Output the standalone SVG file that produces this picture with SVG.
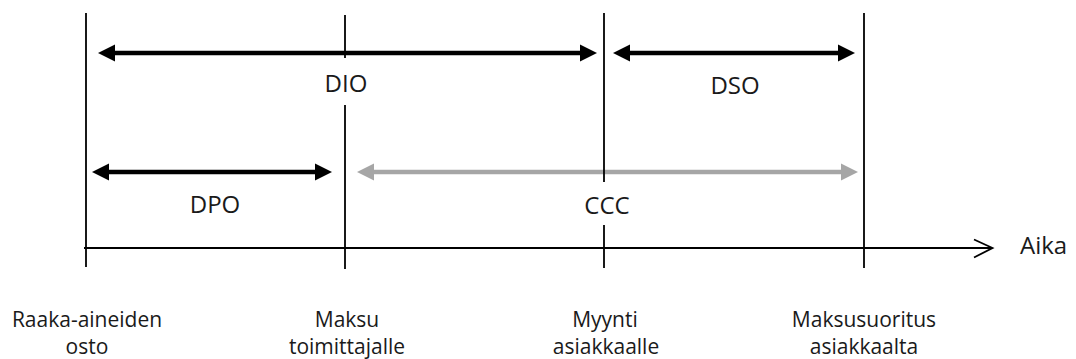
<svg xmlns="http://www.w3.org/2000/svg" width="1076" height="359" viewBox="0 0 1076 359">
<defs>
<style>
.t{font-family:"Open Sans","Liberation Sans",sans-serif;fill:#1a1a1a;text-anchor:middle}
.big{font-size:24px}
.small{font-size:21px}
.v{stroke:#000;stroke-width:1.8;fill:none}
.ab{stroke:#000;stroke-width:4.5;fill:none}
.ag{stroke:#a6a6a6;stroke-width:4.5;fill:none}
</style>
<marker id="hb" markerUnits="userSpaceOnUse" markerWidth="18" markerHeight="18" refX="0" refY="8.5" orient="auto-start-reverse" viewBox="0 0 18 17">
<path d="M0,0 L17,8.5 L0,17 z" fill="#000"/>
</marker>
<marker id="hg" markerUnits="userSpaceOnUse" markerWidth="18" markerHeight="18" refX="0" refY="8.5" orient="auto-start-reverse" viewBox="0 0 18 17">
<path d="M0,0 L17,8.5 L0,17 z" fill="#a6a6a6"/>
</marker>
</defs>
<g id="connectors">
<line class="v" x1="84" y1="248" x2="992" y2="248"/>
<polyline class="v" points="974,239.5 992.5,248 974,257.5"/>
<line class="ab" x1="115" y1="53" x2="580" y2="53" marker-start="url(#hb)" marker-end="url(#hb)"/>
<line class="ab" x1="630" y1="53" x2="838" y2="53" marker-start="url(#hb)" marker-end="url(#hb)"/>
<line class="ab" x1="109" y1="172" x2="315" y2="172" marker-start="url(#hb)" marker-end="url(#hb)"/>
<line class="ag" x1="374" y1="172" x2="841" y2="172" marker-start="url(#hg)" marker-end="url(#hg)"/>
</g>
<g id="node-raaka">
<line class="v" x1="86" y1="13" x2="86" y2="267"/>
<text class="t small" x="87" y="327">Raaka-aineiden</text>
<text class="t small" x="87" y="354">osto</text>
</g>
<g id="node-maksu">
<line class="v" x1="345" y1="15" x2="345" y2="58"/>
<line class="v" x1="345" y1="105" x2="345" y2="269"/>
<text class="t small" x="347" y="327">Maksu</text>
<text class="t small" x="347" y="354">toimittajalle</text>
</g>
<g id="node-myynti">
<line class="v" x1="604" y1="13" x2="604" y2="182"/>
<line class="v" x1="604" y1="225" x2="604" y2="268"/>
<text class="t small" x="605" y="327">Myynti</text>
<text class="t small" x="606" y="354">asiakkaalle</text>
</g>
<g id="node-maksusuoritus">
<line class="v" x1="864" y1="13" x2="864" y2="268"/>
<text class="t small" x="864" y="327">Maksusuoritus</text>
<text class="t small" x="864" y="354">asiakkaalta</text>
</g>
<g id="labels">
<text class="t big" x="346" y="92">DIO</text>
<text class="t big" x="735" y="94">DSO</text>
<text class="t big" x="215" y="213">DPO</text>
<text class="t big" x="607" y="214">CCC</text>
<text class="t big" x="1020" y="254" style="text-anchor:start">Aika</text>
</g>
</svg>
